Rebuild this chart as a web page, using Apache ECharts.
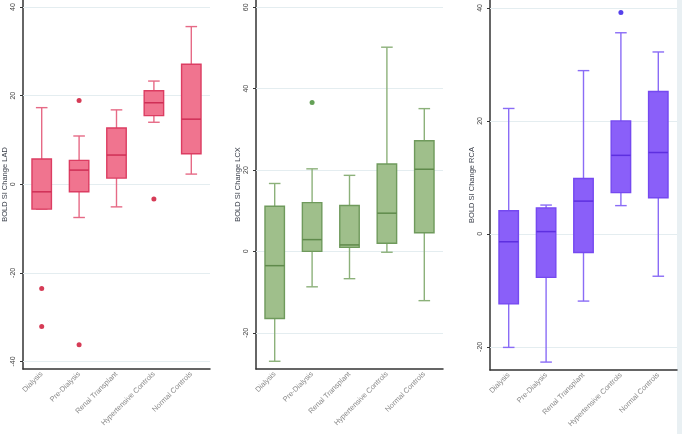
<!DOCTYPE html>
<html>
<head>
<meta charset="utf-8">
<script src="https://cdn.jsdelivr.net/npm/echarts@6/dist/echarts.min.js"></script>
<style>html,body{margin:0;padding:0;background:#fff;}#c{width:682px;height:434px;}</style>
</head>
<body>
<div id="c"></div>
<script>
// ---- data ----
var categories = ['Dialysis', 'Pre-Dialysis', 'Renal Transplant', 'Hypertensive Controls', 'Normal Controls'];
// [low whisker, Q1, median, Q3, high whisker]
var ladBoxes = [[-5.6, -5.6, -1.7, 5.7, 17.3], [-7.5, -1.7, 3.2, 5.4, 10.9], [-5.1, 1.4, 6.6, 12.7, 16.8], [14.0, 15.5, 18.4, 21.1, 23.3], [2.3, 6.9, 14.7, 27.1, 35.6]];
var ladOutliers = [[0, -23.5], [0, -32.1], [1, 18.9], [1, -36.2], [3, -3.3]];
var lcxBoxes = [[-27.0, -16.5, -3.5, 11.1, 16.7], [-8.7, 0.0, 2.9, 12.0, 20.3], [-6.7, 1.0, 1.6, 11.3, 18.7], [-0.2, 2.0, 9.4, 21.5, 50.2], [-12.1, 4.6, 20.2, 27.2, 35.1]];
var lcxOutliers = [[1, 36.6]];
var rcaBoxes = [[-20.1, -12.4, -1.4, 4.1, 22.2], [-22.7, -7.7, 0.4, 4.6, 5.1], [-11.9, -3.3, 5.8, 9.8, 28.9], [5.0, 7.3, 13.9, 20.0, 35.6], [-7.5, 6.4, 14.4, 25.2, 32.2]];
var rcaOutliers = [[3, 39.2]];
var ladTicks = [-40, -20, 0, 20, 40];
var lcxTicks = [-20, 0, 20, 40, 60];
var rcaTicks = [-20, 0, 20, 40];
var yTitles = ['BOLD SI Change LAD', 'BOLD SI Change LCX', 'BOLD SI Change RCA'];

var panels = [
  {boxes: ladBoxes, outliers: ladOutliers, ticks: ladTicks, min: -41.7, max: 41.6,
   grid: {left: 23, right: 472, top: 0, bottom: 65},
   fill: '#f0748f', border: '#dc3d62', whisker: '#e66a86', median: '#cf2f56', dot: '#cc0a2c'},
  {boxes: lcxBoxes, outliers: lcxOutliers, ticks: lcxTicks, min: -28.9, max: 61.8,
   grid: {left: 256, right: 239, top: 0, bottom: 65},
   fill: '#9fbf8b', border: '#6f9a5c', whisker: '#8cb17a', median: '#5f8a4b', dot: '#3d8a2c'},
  {boxes: rcaBoxes, outliers: rcaOutliers, ticks: rcaTicks, min: -24.1, max: 41.4,
   grid: {left: 490, right: 5, top: 0, bottom: 64},
   fill: '#8a5ff9', border: '#7549f0', whisker: '#8a6cf6', median: '#5d2fe0', dot: '#2c12e6'}
];

var FONT = 'Liberation Sans';
var grids = [], xAxes = [], yAxes = [], series = [];

panels.forEach(function (p, i) {
  grids.push(p.grid);
  xAxes.push({
    gridIndex: i, type: 'category', data: categories, boundaryGap: true,
    axisLine: {show: true, onZero: false, lineStyle: {color: '#333', width: 1.5}},
    axisTick: {show: false},
    axisLabel: {rotate: 45, fontSize: 7.4, color: '#8a8a8a', margin: 4, fontFamily: FONT, interval: 0}
  });
  yAxes.push({
    gridIndex: i, type: 'value', min: p.min, max: p.max,
    axisLine: {show: true, onZero: false, lineStyle: {color: '#333', width: 1.5}},
    axisTick: {show: true, length: 3, customValues: p.ticks, lineStyle: {color: '#333'}},
    axisLabel: {customValues: p.ticks, rotate: 90, fontSize: 7, color: '#444', margin: 6, fontFamily: FONT},
    splitLine: {show: false},
    name: yTitles[i], nameLocation: 'middle', nameRotate: 90, nameGap: 14,
    nameTextStyle: {fontSize: 7.5, color: '#3a3f4a', fontFamily: FONT}
  });
  var boxData = p.boxes.map(function (b, k) { return [k].concat(b); });
  series.push({
    type: 'custom', xAxisIndex: i, yAxisIndex: i, z: 3,
    data: boxData,
    encode: {x: 0, y: [1, 2, 3, 4, 5]},
    renderItem: (function (p) {
      return function (params, api) {
        var x = api.value(0);
        var low = api.coord([x, api.value(1)]);
        var q1 = api.coord([x, api.value(2)]);
        var med = api.coord([x, api.value(3)]);
        var q3 = api.coord([x, api.value(4)]);
        var high = api.coord([x, api.value(5)]);
        var band = api.size([1, 0])[0];
        var hw = band * 0.26, cw = band * 0.155;
        var cx = med[0];
        var wl = {stroke: p.whisker, lineWidth: 1.4};
        return {
          type: 'group',
          children: [
            {type: 'line', shape: {x1: cx, y1: q3[1], x2: cx, y2: high[1]}, style: wl},
            {type: 'line', shape: {x1: cx, y1: q1[1], x2: cx, y2: low[1]}, style: wl},
            {type: 'line', shape: {x1: cx - cw, y1: high[1], x2: cx + cw, y2: high[1]}, style: wl},
            {type: 'line', shape: {x1: cx - cw, y1: low[1], x2: cx + cw, y2: low[1]}, style: wl},
            {type: 'rect', shape: {x: cx - hw, y: q3[1], width: 2 * hw, height: q1[1] - q3[1]},
             style: {fill: p.fill, stroke: p.border, lineWidth: 1.4}},
            {type: 'line', shape: {x1: cx - hw, y1: med[1], x2: cx + hw, y2: med[1]},
             style: {stroke: p.median, lineWidth: 1.5}}
          ]
        };
      };
    })(p)
  });
  series.push({
    type: 'scatter', xAxisIndex: i, yAxisIndex: i, z: 4,
    data: p.outliers, symbol: 'circle', symbolSize: 5,
    itemStyle: {color: p.dot},
    markLine: {
      silent: true, symbol: 'none', z: 1, label: {show: false},
      lineStyle: {color: '#e4edf0', width: 1, type: 'solid'},
      data: p.ticks.map(function (t) { return {yAxis: t}; })
    }
  });
});

var chart = echarts.init(document.getElementById('c'), null, {renderer: 'canvas'});
chart.setOption({
  animation: false,
  backgroundColor: '#ffffff',
  grid: grids, xAxis: xAxes, yAxis: yAxes, series: series,
  graphic: [{type: 'rect', left: 677, top: 0, shape: {width: 5, height: 434}, style: {fill: '#e9f0f3'}, z: -1}]
});
</script>
</body>
</html>
